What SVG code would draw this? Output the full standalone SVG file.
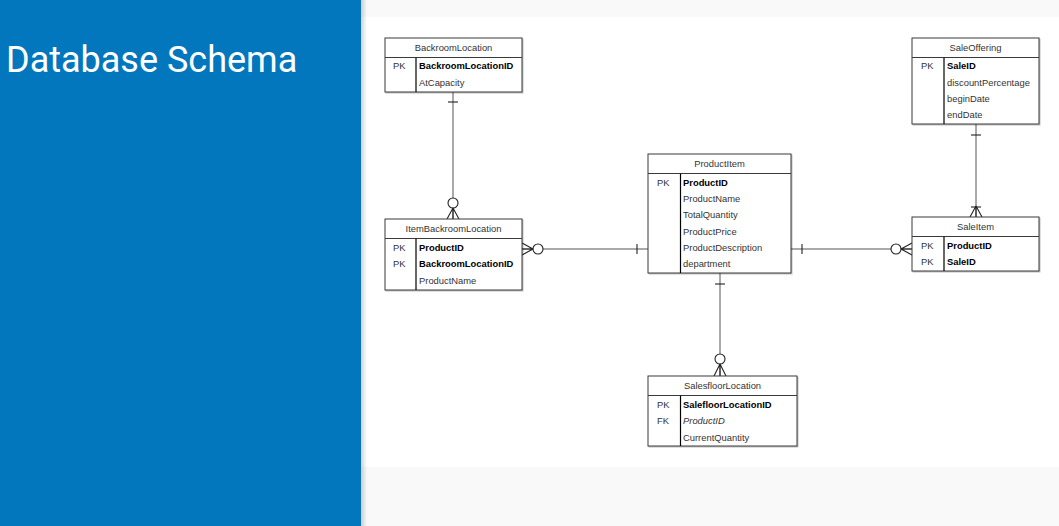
<svg xmlns="http://www.w3.org/2000/svg" width="1059" height="526" viewBox="0 0 1059 526">
  <defs>
    <linearGradient id="panelShadow" x1="0" y1="0" x2="1" y2="0">
      <stop offset="0" stop-color="#000" stop-opacity="0.18"/>
      <stop offset="1" stop-color="#000" stop-opacity="0"/>
    </linearGradient>
    <filter id="tblShadow" x="-5%" y="-5%" width="115%" height="115%">
      <feDropShadow dx="1" dy="1" stdDeviation="0.6" flood-color="#000" flood-opacity="0.25"/>
    </filter>
  </defs>
  <style>
    .title { font-family: Roboto, "Liberation Sans", sans-serif; font-size: 36px; fill: #ffffff; }
    .tbl { fill: #ffffff; stroke: #3a3a3a; stroke-width: 1; filter: url(#tblShadow); }
    .sep { stroke: #3a3a3a; stroke-width: 1; fill: none; }
    .div { stroke: #000; stroke-width: 1.2; fill: none; }
    .hdr { font-family: "Liberation Sans", Arial, sans-serif; font-size: 9.4px; fill: #333; text-anchor: middle; }
    .key { font-family: "Liberation Sans", Arial, sans-serif; font-size: 9.4px; fill: #333; }
    .fld { font-family: "Liberation Sans", Arial, sans-serif; font-size: 9.4px; fill: #333; }
    .pk { font-family: "Liberation Sans", Arial, sans-serif; font-size: 9.4px; fill: #000; font-weight: bold; }
    .fk { font-family: "Liberation Sans", Arial, sans-serif; font-size: 9.4px; fill: #333; font-style: italic; }
    .ln { stroke: #555; stroke-width: 1; fill: none; }
    .ring { stroke: #222; stroke-width: 1.1; fill: #fff; }
    .tick { stroke: #222; stroke-width: 1.1; fill: none; }
  </style>

  <!-- page background -->
  <rect x="0" y="0" width="1059" height="526" fill="#f9f9f9"/>
  <rect x="361" y="17" width="698" height="450" fill="#ffffff"/>
  <rect x="0" y="0" width="361" height="526" fill="#0277be"/>
  <rect x="361" y="0" width="6" height="526" fill="url(#panelShadow)"/>
  <text class="title" x="6" y="72">Database Schema</text>

  <!-- relationships -->
  <g id="connectors">
    <!-- BackroomLocation 1 : 0..n ItemBackroomLocation -->
    <path class="ln" d="M453 92 V219"/>
    <path class="tick" d="M448 102 H458"/>
    <circle class="ring" cx="453" cy="203" r="5"/>
    <path class="tick" d="M453 208 L447 219 M453 208 L459 219 M453 208 V219"/>

    <!-- ItemBackroomLocation 0..n : 1 ProductItem -->
    <path class="ln" d="M522 249 H648"/>
    <path class="tick" d="M533 249 L522 243 M533 249 L522 255 M533 249 H522"/>
    <circle class="ring" cx="538" cy="249" r="5"/>
    <path class="tick" d="M637 244 V254"/>

    <!-- ProductItem 1 : 0..n SaleItem -->
    <path class="ln" d="M791 249 H912"/>
    <path class="tick" d="M802 244 V254"/>
    <circle class="ring" cx="896" cy="249" r="5"/>
    <path class="tick" d="M901 249 L912 243 M901 249 L912 255 M901 249 H912"/>

    <!-- SaleOffering 1 : 1..n SaleItem -->
    <path class="ln" d="M976 124 V217"/>
    <path class="tick" d="M971 135 H981"/>
    <path class="tick" d="M971 207 H981"/>
    <path class="tick" d="M976 206 L970 217 M976 206 L982 217 M976 206 V217"/>

    <!-- ProductItem 1 : 0..n SalesfloorLocation -->
    <path class="ln" d="M720 273 V376"/>
    <path class="tick" d="M715 284 H725"/>
    <circle class="ring" cx="720" cy="359" r="5"/>
    <path class="tick" d="M720 364 L714 376 M720 364 L726 376 M720 364 V376"/>
  </g>

  <!-- BackroomLocation -->
  <g id="BackroomLocation">
    <rect class="tbl" x="385" y="38" width="137" height="54"/>
    <path class="sep" d="M385 57.5 H522"/>
    <path class="div" d="M416 57.5 V92"/>
    <text class="hdr" x="453.5" y="50.5">BackroomLocation</text>
    <text class="key" x="393" y="69">PK</text>
    <text class="pk" x="419" y="69">BackroomLocationID</text>
    <text class="fld" x="419" y="85.5">AtCapacity</text>
  </g>

  <!-- ItemBackroomLocation -->
  <g id="ItemBackroomLocation">
    <rect class="tbl" x="385" y="219" width="137" height="71"/>
    <path class="sep" d="M385 238.5 H522"/>
    <path class="div" d="M416 238.5 V290"/>
    <text class="hdr" x="453.5" y="232">ItemBackroomLocation</text>
    <text class="key" x="393" y="250.5">PK</text>
    <text class="pk" x="419" y="250.5">ProductID</text>
    <text class="key" x="393" y="267">PK</text>
    <text class="pk" x="419" y="267">BackroomLocationID</text>
    <text class="fld" x="419" y="283.5">ProductName</text>
  </g>

  <!-- ProductItem -->
  <g id="ProductItem">
    <rect class="tbl" x="648" y="154" width="143" height="119"/>
    <path class="sep" d="M648 173.5 H791"/>
    <path class="div" d="M680.5 173.5 V273"/>
    <text class="hdr" x="719.5" y="167">ProductItem</text>
    <text class="key" x="657" y="185.5">PK</text>
    <text class="pk" x="683" y="185.5">ProductID</text>
    <text class="fld" x="683" y="202">ProductName</text>
    <text class="fld" x="683" y="218">TotalQuantity</text>
    <text class="fld" x="683" y="234.5">ProductPrice</text>
    <text class="fld" x="683" y="251">ProductDescription</text>
    <text class="fld" x="683" y="267">department</text>
  </g>

  <!-- SaleOffering -->
  <g id="SaleOffering">
    <rect class="tbl" x="912" y="38" width="127" height="86"/>
    <path class="sep" d="M912 57.5 H1039"/>
    <path class="div" d="M944 57.5 V124"/>
    <text class="hdr" x="975.5" y="50.5">SaleOffering</text>
    <text class="key" x="921" y="69">PK</text>
    <text class="pk" x="947" y="69">SaleID</text>
    <text class="fld" x="947" y="85.5">discountPercentage</text>
    <text class="fld" x="947" y="102">beginDate</text>
    <text class="fld" x="947" y="118">endDate</text>
  </g>

  <!-- SaleItem -->
  <g id="SaleItem">
    <rect class="tbl" x="912" y="217" width="127" height="54"/>
    <path class="sep" d="M912 236.5 H1039"/>
    <path class="div" d="M944 236.5 V271"/>
    <text class="hdr" x="975.5" y="230">SaleItem</text>
    <text class="key" x="921" y="248.5">PK</text>
    <text class="pk" x="947" y="248.5">ProductID</text>
    <text class="key" x="921" y="265">PK</text>
    <text class="pk" x="947" y="265">SaleID</text>
  </g>

  <!-- SalesfloorLocation -->
  <g id="SalesfloorLocation">
    <rect class="tbl" x="648" y="376" width="149" height="70"/>
    <path class="sep" d="M648 395.5 H797"/>
    <path class="div" d="M680.5 395.5 V446"/>
    <text class="hdr" x="722.5" y="389">SalesfloorLocation</text>
    <text class="key" x="657" y="407.5">PK</text>
    <text class="pk" x="683" y="407.5">SalefloorLocationID</text>
    <text class="key" x="657" y="424">FK</text>
    <text class="fk" x="683" y="424">ProductID</text>
    <text class="fld" x="683" y="440.5">CurrentQuantity</text>
  </g>
</svg>
